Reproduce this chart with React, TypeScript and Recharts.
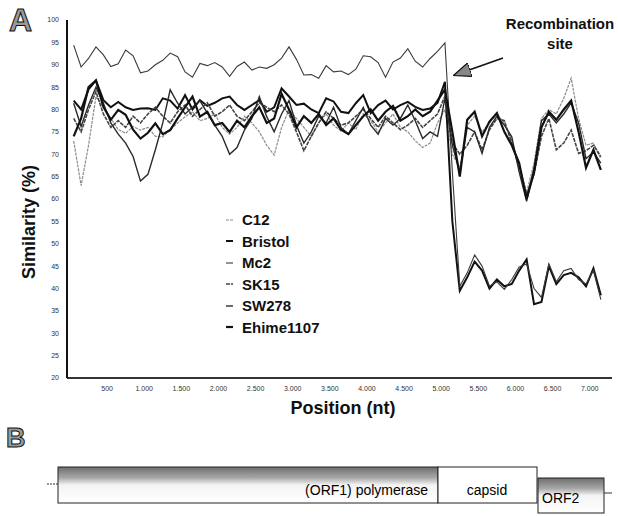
import { LineChart, Line, XAxis, YAxis } from 'recharts';

document.body.style.margin = '0';

const POSITIONS = [
  50, 150, 250, 350, 450, 550, 650, 750, 850, 950, 1050, 1150, 1250, 1350, 1450, 1550, 1650, 1750,
  1850, 1950, 2050, 2150, 2250, 2350, 2450, 2550, 2650, 2750, 2850, 2950, 3050, 3150, 3250, 3350,
  3450, 3550, 3650, 3750, 3850, 3950, 4050, 4150, 4250, 4350, 4450, 4550, 4650, 4750, 4850, 4950,
  5050, 5150, 5250, 5350, 5450, 5550, 5650, 5750, 5850, 5950, 6050, 6150, 6250, 6350, 6450, 6550,
  6650, 6750, 6850, 6950, 7050, 7150,
];

const MC2 = [
  94.4, 89.5, 91.4, 94, 92.2, 89.6, 90.2, 93.3, 92, 88.2, 88.6, 90, 91, 92.6, 91.8, 88.4, 87.2, 90.3,
  89.8, 90.5, 89.5, 87.4, 89.6, 90.6, 88.8, 89.5, 89.2, 90, 91.5, 94, 91.2, 87.7, 87.8, 87,
  89.8, 88.4, 88.6, 87.8, 89, 92, 91.8, 90.5, 87.2, 90.6, 91.5, 93.6, 90.8, 89.5, 91.4, 93,
  94.9, 66, 40.5, 43.5, 47.5, 45, 40.5, 41.5, 39.8, 42, 44.8, 45.5, 40, 38, 45.5, 41.5,
  44, 44.5, 42, 41, 44, 37.5,
];

const BRISTOL = [
  82, 80, 84.5, 86.5, 82.1, 80.5, 81.7, 80.5, 79.9, 80.2, 80.3, 79.9, 82.5, 82, 80.2, 83.2, 80, 82.1,
  80.8, 81.5, 82.5, 82.9, 81, 79.9, 81, 82.1, 79.5, 80.5, 84.7, 82.9, 81, 81.3, 80, 79.2,
  82.5, 81.8, 79.5, 79.2, 81.4, 83.2, 79.2, 81, 82, 80, 81, 81.7, 80.6, 79.9, 80.2, 81.5,
  86.2, 55, 39.5, 42.5, 46, 44, 40, 42, 40.5, 41, 44, 46.5, 36.5, 37, 45, 41,
  43, 43.5, 42.5, 40.5, 44.5, 38.5,
];

const EHIME1107 = [
  74, 78, 85, 86.5, 80.6, 77.7, 79.9, 78.8, 75.5, 73.5, 74.8, 76.9, 74.5, 75.4, 78, 80.5, 82.9, 78.4,
  79.5, 76.5, 77, 75, 77.5, 76, 78.5, 80.5, 77, 78, 83.5, 80, 76, 78.5, 77, 79,
  76.5, 78, 75.5, 74.5, 76.5, 78.5, 80, 77.5, 79.5, 80.8, 77.5, 78.5, 80, 78.5, 79.5, 82,
  84.5, 75, 65, 77.7, 79.5, 74, 77.3, 79.2, 75, 72, 68, 60, 66, 76, 79.5, 77.7,
  80, 82, 75, 67, 71, 66.5,
];

const SW278 = [
  81.4, 76.2, 81, 85, 81.4, 77, 74.5, 72.5, 69.5, 64, 65.5, 71, 77, 84.4, 81.4, 79, 80.5, 82,
  79.2, 76.5, 74, 70, 71.5, 75.4, 78, 82.9, 78.4, 75, 79, 82, 76.5, 72.5, 75, 78.5,
  77, 80.5, 76, 74.5, 77.5, 80.5, 76.5, 74.5, 78, 76.5, 78, 81, 77.5, 73.5, 75, 74,
  82.5, 72, 66, 76, 75, 70.2, 76, 78.5, 76.5, 73.9, 66, 59.5, 67, 77.5, 79, 77,
  79, 81.5, 77, 69, 70.5, 68,
];

const C12 = [
  73, 63, 72, 82.9, 80.6, 78, 75.5, 74.7, 76.2, 75.4, 76, 74, 73.9, 75.5, 77, 78.4, 79.5, 77.5,
  78, 79, 76, 74.5, 76, 78.5, 77, 75, 72, 69.8, 76, 80, 78, 76, 74, 77,
  79, 76.5, 75.2, 77, 75.5, 79, 77.5, 75, 77, 79, 76, 75, 73, 71.5, 72.5, 77,
  80, 70, 67, 76.5, 78.5, 75, 77, 79, 77, 73, 67.5, 61.5, 68, 78, 80, 79,
  82.5, 87, 78, 72, 72.5, 69,
];

const SK15 = [
  78, 75, 80, 84, 79, 76, 77.5, 76, 78.5, 77, 79, 80.5, 78.5, 77, 79.5, 81, 78.5, 80,
  81.5, 78.5, 79.5, 81, 78.5, 77.5, 79.5, 81.5, 80.5, 79.5, 81, 79, 75, 70.8, 74, 77,
  79.5, 78, 76.5, 77, 78.5, 80, 78, 76, 78.5, 77, 75.5, 76.5, 78, 76, 77.5, 79,
  83, 72.5, 70, 72, 75, 71, 75.5, 78, 77.5, 72.5, 67, 61, 65.5, 74, 78, 71,
  72.5, 75.4, 70.2, 70.8, 72, 69.5,
];

const X_TICKS = [500, 1000, 1500, 2000, 2500, 3000, 3500, 4000, 4500, 5000, 5500, 6000, 6500, 7000];
const Y_TICKS = [20, 25, 30, 35, 40, 45, 50, 55, 60, 65, 70, 75, 80, 85, 90, 95, 100];

const SERIES = [
  { key: 'c12', name: 'C12', values: C12, color: '#8c8c8c', width: 1.2, dash: '3 1' },
  { key: 'bristol', name: 'Bristol', values: BRISTOL, color: '#111', width: 2, dash: undefined },
  { key: 'mc2', name: 'Mc2', values: MC2, color: '#3a3a3a', width: 1.1, dash: undefined },
  { key: 'sk15', name: 'SK15', values: SK15, color: '#444', width: 1.6, dash: '4 1' },
  { key: 'sw278', name: 'SW278', values: SW278, color: '#2a2a2a', width: 1.4, dash: undefined },
  { key: 'ehime', name: 'Ehime1107', values: EHIME1107, color: '#111', width: 2.2, dash: undefined },
];

const data = POSITIONS.map((pos, i) => {
  const row: Record<string, number> = { pos };
  SERIES.forEach((s) => {
    row[s.key] = s.values[i];
  });
  return row;
});

const fmtPos = (v: number) =>
  v >= 1000 ? `${Math.floor(v / 1000)}.${String(v % 1000).padStart(3, '0')}` : String(v);

const FONT = 'Arial, "Liberation Sans", Helvetica, sans-serif';

// legend sits inside the plot, so it's drawn outside recharts' layout
function LegendBox() {
  return (
    <div
      style={{
        position: 'absolute',
        left: 222,
        top: 209,
        fontFamily: FONT,
        fontSize: 15,
        fontWeight: 'bold',
        color: '#111',
      }}
    >
      {SERIES.map((s) => (
        <div key={s.key} style={{ height: 21.5, display: 'flex', alignItems: 'center' }}>
          <svg width={20} height={6}>
            <line x1={4} y1={3} x2={11} y2={3} stroke={s.color} strokeWidth={s.width} strokeDasharray={s.dash} />
          </svg>
          <span>{s.name}</span>
        </div>
      ))}
    </div>
  );
}

export default function App() {
  return (
    <div style={{ position: 'relative', width: 618, height: 516, background: '#fff', fontFamily: FONT }}>
      <LineChart width={618} height={420} data={data} margin={{ top: 20, right: 6, bottom: 0, left: 0 }}>
        <XAxis
          dataKey="pos"
          type="number"
          domain={[-40, 7300]}
          ticks={X_TICKS}
          tickFormatter={fmtPos}
          tickLine={false}
          axisLine={{ stroke: '#333', strokeWidth: 2 }}
          tick={{ fontSize: 7, fill: '#333', fontFamily: FONT }}
          height={42}
        />
        <YAxis
          type="number"
          domain={[20, 100]}
          ticks={Y_TICKS}
          tickLine={false}
          axisLine={{ stroke: '#111', strokeWidth: 2 }}
          tick={{ fontSize: 7, fill: '#333', fontFamily: FONT }}
          width={67}
          interval={0}
        />
        {SERIES.map((s) => (
          <Line
            key={s.key}
            dataKey={s.key}
            name={s.name}
            type="linear"
            stroke={s.color}
            strokeWidth={s.width}
            strokeDasharray={s.dash}
            dot={false}
            isAnimationActive={false}
          />
        ))}
      </LineChart>

      <LegendBox />

      <svg width={618} height={516} style={{ position: 'absolute', left: 0, top: 0, pointerEvents: 'none' }}>
        <defs>
          <linearGradient id="orfFill" x1="0" y1="0" x2="0" y2="1">
            <stop offset="0" stopColor="#6e6e6e" />
            <stop offset="0.3" stopColor="#a8a8a8" />
            <stop offset="0.5" stopColor="#f4f4f4" />
            <stop offset="1" stopColor="#ffffff" />
          </linearGradient>
          <marker id="arrowHead" markerWidth="11" markerHeight="9" refX="10" refY="4.5" orient="auto">
            <path d="M0,0 L11,4.5 L0,9 Z" fill="#888" stroke="#111" strokeWidth="0.8" />
          </marker>
        </defs>

        <text x={9} y={31} fontSize={32} fontWeight="bold" fill="#9a9a9a" stroke="#111" strokeWidth={1} fontFamily={FONT}>
          A
        </text>
        <text
          x={30}
          y={222}
          transform="rotate(-90 30 222)"
          textAnchor="middle"
          dominantBaseline="middle"
          fontSize={18}
          fontWeight="bold"
          fill="#111"
          fontFamily={FONT}
        >
          Similarity (%)
        </text>
        <text x={343} y={414} textAnchor="middle" fontSize={18} fontWeight="bold" fill="#111" fontFamily={FONT}>
          Position (nt)
        </text>

        <text x={560} y={29} textAnchor="middle" fontSize={15} fontWeight="bold" fill="#111" fontFamily={FONT}>
          Recombination
        </text>
        <text x={560} y={49} textAnchor="middle" fontSize={15} fontWeight="bold" fill="#111" fontFamily={FONT}>
          site
        </text>
        <line x1={503} y1={58} x2={455} y2={75} stroke="#111" strokeWidth={1.6} markerEnd="url(#arrowHead)" />

        <text x={6} y={447} fontSize={27} fontWeight="bold" fill="#9a9a9a" stroke="#111" strokeWidth={1} fontFamily={FONT}>
          B
        </text>
        <line x1={47} y1={484} x2={58} y2={484} stroke="#333" strokeWidth={1} strokeDasharray="2 1" />
        <rect x={58} y={467} width={380} height={36} fill="url(#orfFill)" stroke="#222" strokeWidth={1} />
        <text x={428} y={495} textAnchor="end" fontSize={14} fill="#000" fontFamily={FONT}>
          (ORF1)  polymerase
        </text>
        <rect x={438} y={467} width={99} height={36} fill="#fff" stroke="#222" strokeWidth={1} />
        <text x={487} y={495} textAnchor="middle" fontSize={14} fill="#000" fontFamily={FONT}>
          capsid
        </text>
        <rect x={538} y={478} width={66} height={35} fill="url(#orfFill)" stroke="#222" strokeWidth={1} />
        <text x={542} y={503} fontSize={14} fill="#000" fontFamily={FONT}>
          ORF2
        </text>
        <line x1={604} y1={493} x2={612} y2={493} stroke="#333" strokeWidth={1} />
      </svg>
    </div>
  );
}
